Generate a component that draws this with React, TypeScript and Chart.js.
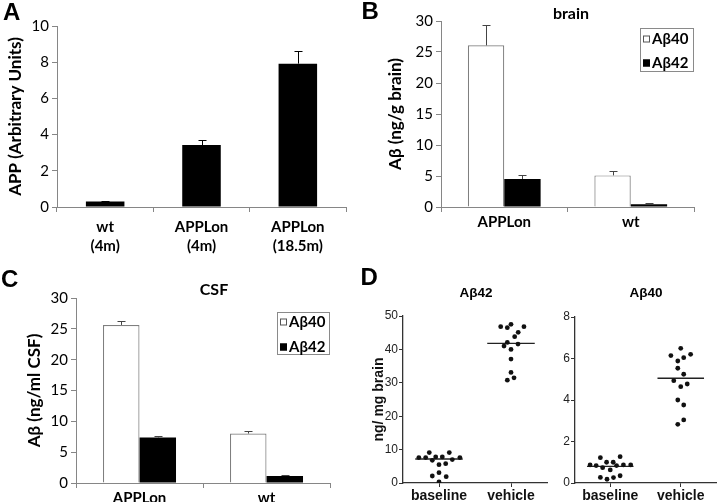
import React, { useEffect, useRef } from 'react';
import { Chart, registerables } from 'chart.js';

Chart.register(...registerables);

const CAL = 'Lato, "Open Sans", sans-serif';
const ARIAL = '"Liberation Sans", Arial, sans-serif';

// ---------- Panel A ----------
const aCategories = [['wt', '(4m)'], ['APPLon', '(4m)'], ['APPLon', '(18.5m)']];
const aValues = [0.3, 3.42, 7.92];
const aErrors = [0.03, 0.26, 0.68];
const aYTitle = 'APP (Arbitrary Units)';

// ---------- Panel B (brain) ----------
const bCategories = ['APPLon', 'wt'];
const bAb40 = [26.07, 5.1];
const bAb40Err = [3.29, 0.76];
const bAb42 = [4.52, 0.43];
const bAb42Err = [0.7, 0.16];
const bTitle = 'brain';
const bYTitle = 'Aβ (ng/g brain)';

// ---------- Panel C (CSF) ----------
const cCategories = ['APPLon', 'wt'];
const cAb40 = [25.63, 8.02];
const cAb40Err = [0.7, 0.43];
const cAb42 = [7.38, 1.13];
const cAb42Err = [0.32, 0.11];
const cTitle = 'CSF';
const cYTitle = 'Aβ (ng/ml CSF)';

const seriesNames = ['Aβ40', 'Aβ42'];

// ---------- Panel D ----------
const dCategories = ['baseline', 'vehicle'];
const dYTitle = 'ng/ mg brain';
const dAb42Title = 'Aβ42';
const dAb40Title = 'Aβ40';

const dAb42Baseline = [7.6, 7.6, 9.1, 6.8, 7.8, 7.8, 5.5, 5.8, 9.1, 7.0, 7.6, 3.1, 2.1, 1.9, 0.3];
const dAb42BaselineJitter = [-0.28, -0.185, -0.135, -0.093, -0.046, 0.046, 0, 0.093, 0.143, 0.185, 0.29, 0, -0.093, 0.1, 0];
const dAb42Vehicle = [46.8, 46.5, 47.5, 46.8, 45.1, 43.8, 42.1, 41.0, 41.6, 40.0, 37.1, 33.1, 31.5, 30.8];
const dAb42VehicleJitter = [-0.143, -0.051, 0, 0.18, 0.1, 0.051, -0.051, -0.097, 0.097, 0, 0, 0, 0.042, -0.051];
const dAb42Medians = [7.2, 41.8];

const dAb40Baseline = [0.87, 0.84, 1.22, 0.74, 1.0, 0.63, 1.0, 0.84, 1.27, 0.87, 0.87, 0.27, 0.18, 0.26, 0.35];
const dAb40BaselineJitter = [-0.286, -0.2, -0.14, -0.108, -0.052, 0, 0.042, 0.089, 0.14, 0.187, 0.29, -0.14, -0.046, 0.046, 0.14];
const dAb40Vehicle = [6.49, 6.14, 5.88, 6.04, 6.2, 5.53, 5.24, 4.93, 4.64, 4.77, 4.0, 3.76, 2.83, 3.04];
const dAb40VehicleJitter = [0, -0.14, -0.042, 0.042, 0.14, -0.042, 0.042, -0.099, 0, 0.092, -0.042, 0.042, -0.042, 0.042];
const dAb40Medians = [0.8, 5.05];

// ---------- plugins ----------
const errorBarsPlugin = {
  id: 'errorBars',
  afterDatasetsDraw(chart: any) {
    const ctx = chart.ctx;
    const yScale = chart.scales.y;
    chart.data.datasets.forEach((ds: any, di: number) => {
      if (!ds.errors) return;
      const meta = chart.getDatasetMeta(di);
      meta.data.forEach((bar: any, i: number) => {
        const v = ds.data[i];
        const e = ds.errors[i];
        const yTop = Math.round(yScale.getPixelForValue(v + e)) + 0.5;
        const x = Math.round(bar.x) + 0.5;
        ctx.save();
        ctx.strokeStyle = ds.errorColor || '#000';
        ctx.lineWidth = 1;
        ctx.beginPath();
        ctx.moveTo(x, bar.y);
        ctx.lineTo(x, yTop);
        ctx.moveTo(x - 4, yTop);
        ctx.lineTo(x + 4, yTop);
        ctx.stroke();
        ctx.restore();
      });
    });
  },
};

const boxLegendPlugin = {
  id: 'boxLegend',
  afterDraw(chart: any, _args: any, opts: any) {
    if (!opts || !opts.show) return;
    const ctx = chart.ctx;
    ctx.save();
    ctx.strokeStyle = '#8a8a8a';
    ctx.lineWidth = 1;
    ctx.strokeRect(opts.x + 0.5, opts.y + 0.5, opts.w, opts.h);
    chart.data.datasets.forEach((ds: any, i: number) => {
      const cy = opts.y + opts.firstRow + i * opts.rowGap;
      const sx = opts.x + opts.boxInset;
      ctx.fillStyle = ds.backgroundColor;
      ctx.fillRect(sx, cy - 3.5, 7, 7);
      ctx.strokeStyle = ds.backgroundColor === '#ffffff' ? '#555' : ds.backgroundColor;
      ctx.strokeRect(sx + 0.5, cy - 3, 6, 6);
      ctx.fillStyle = '#000';
      ctx.font = `bold 15px ${CAL}`;
      ctx.textBaseline = 'middle';
      ctx.textAlign = 'left';
      ctx.fillText(ds.label, sx + 9, cy + 0.5);
    });
    ctx.restore();
  },
};

// ---------- axis helpers ----------
function calXAxis(height: number, pad: number) {
  return {
    type: 'category',
    grid: { display: true, drawOnChartArea: false, drawTicks: true, tickLength: 5, color: '#868686', offset: true },
    border: { display: true, color: '#868686', width: 1 },
    ticks: { font: { family: CAL, size: 15, weight: 'bold', lineHeight: 1.3 }, color: '#000', padding: pad, maxRotation: 0, autoSkip: false },
    afterFit: (s: any) => { s.height = height; },
  };
}

function calYAxis(max: number, step: number, title: string, width: number, titlePad: number) {
  return {
    min: 0,
    max,
    ticks: { stepSize: step, font: { family: CAL, size: 15 }, color: '#000', padding: 3 },
    grid: { display: true, drawOnChartArea: false, drawTicks: true, tickLength: 5, color: '#868686' },
    border: { display: true, color: '#868686', width: 1 },
    title: { display: true, text: title, font: { family: CAL, size: 17, weight: 'bold' }, color: '#000', padding: { top: titlePad, bottom: 0 } },
    afterFit: (s: any) => { s.width = width; },
  };
}

const commonOpts = {
  animation: false,
  responsive: false,
  maintainAspectRatio: false,
  events: [],
};

function makeA() {
  return {
    type: 'bar',
    data: {
      labels: aCategories,
      datasets: [{ data: aValues, errors: aErrors, errorColor: '#000', backgroundColor: '#000', borderWidth: 0, barPercentage: 0.4, categoryPercentage: 1 }],
    },
    options: {
      ...commonOpts,
      layout: { padding: { top: 26, right: 14, left: 0, bottom: 0 } },
      plugins: { legend: { display: false }, tooltip: { enabled: false }, boxLegend: { show: false } },
      scales: { x: calXAxis(55, 5), y: calYAxis(10, 2, aYTitle, 57, 5.8) },
    },
    plugins: [errorBarsPlugin],
  };
}

function makeGrouped(cats: string[], v40: number[], e40: number[], v42: number[], e42: number[], yTitle: string, yWidth: number, padTop: number, padRight: number, xHeight: number, titlePad: number, legend: any) {
  return {
    type: 'bar',
    data: {
      labels: cats,
      datasets: [
        { label: seriesNames[0], data: v40, errors: e40, errorColor: '#444', backgroundColor: '#ffffff', borderColor: '#7f7f7f', borderWidth: 1.2, borderSkipped: 'start', barPercentage: 1, categoryPercentage: 0.575 },
        { label: seriesNames[1], data: v42, errors: e42, errorColor: '#444', backgroundColor: '#000000', borderWidth: 0, barPercentage: 1, categoryPercentage: 0.575 },
      ],
    },
    options: {
      ...commonOpts,
      layout: { padding: { top: padTop, right: padRight, left: 0, bottom: 0 } },
      plugins: { legend: { display: false }, tooltip: { enabled: false }, boxLegend: { show: true, ...legend } },
      scales: { x: calXAxis(xHeight, 0), y: calYAxis(30, 5, yTitle, yWidth, titlePad) },
    },
    plugins: [errorBarsPlugin, boxLegendPlugin],
  };
}

function makeD(baseVals: number[], baseJit: number[], vehVals: number[], vehJit: number[], medians: number[], yMax: number, yStep: number, yWidth: number, padTop: number, padRight: number, yTitle: string | null) {
  const groups = [
    { vals: baseVals, jit: baseJit },
    { vals: vehVals, jit: vehJit },
  ];
  const pointSets = groups.map((g, gi) => ({
    type: 'scatter',
    data: g.vals.map((v, i) => ({ x: gi + 0.5 + g.jit[i], y: v })),
    pointRadius: 2.4,
    pointBackgroundColor: '#111',
    pointBorderWidth: 0,
    showLine: false,
  }));
  const medianSets = medians.map((m, gi) => ({
    type: 'line',
    data: [{ x: gi + 0.5 - 0.33, y: m }, { x: gi + 0.5 + 0.33, y: m }],
    borderColor: '#222',
    borderWidth: 1.4,
    pointRadius: 0,
    showLine: true,
    fill: false,
  }));
  return {
    type: 'scatter',
    data: { datasets: [...pointSets, ...medianSets] },
    options: {
      ...commonOpts,
      layout: { padding: { top: padTop, right: padRight, left: 0, bottom: 0 } },
      plugins: { legend: { display: false }, tooltip: { enabled: false }, boxLegend: { show: false } },
      scales: {
        x: {
          type: 'linear',
          min: 0,
          max: 2,
          afterBuildTicks: (s: any) => { s.ticks = dCategories.map((_, i) => ({ value: i + 0.5 })); },
          ticks: { callback: (v: number) => dCategories[Math.round(v - 0.5)], font: { family: ARIAL, size: 14, weight: 'bold' }, color: '#111', padding: 1, maxRotation: 0, autoSkip: false },
          grid: { display: true, drawOnChartArea: false, drawTicks: true, tickLength: 4, color: '#333' },
          border: { display: true, color: '#333', width: 1.3 },
          afterFit: (s: any) => { s.height = 19; },
        },
        y: {
          min: 0,
          max: yMax,
          ticks: { stepSize: yStep, font: { family: ARIAL, size: 12 }, color: '#222', padding: 1 },
          grid: { display: true, drawOnChartArea: false, drawTicks: true, tickLength: 4, color: '#333' },
          border: { display: true, color: '#333', width: 1.3 },
          title: yTitle ? { display: true, text: yTitle, font: { family: ARIAL, size: 14, weight: 'bold' }, color: '#111', padding: { top: 10.6, bottom: 0 } } : { display: false },
          afterFit: (s: any) => { s.width = yWidth; },
        },
      },
    },
  };
}

function ChartBox({ left, top, width, height, make }: { left: number; top: number; width: number; height: number; make: () => any }) {
  const ref = useRef<HTMLCanvasElement>(null);
  useEffect(() => {
    if (!ref.current) return;
    const chart = new Chart(ref.current, make());
    return () => chart.destroy();
  }, []);
  return <canvas ref={ref} width={width} height={height} style={{ position: 'absolute', left, top, width, height }} />;
}

function Label({ text, x, y, font, size, weight = 'bold', center = false }: { text: string; x: number; y: number; font: string; size: number; weight?: string; center?: boolean }) {
  return (
    <div
      style={{
        position: 'absolute',
        left: x,
        top: y,
        fontFamily: font,
        fontSize: size,
        fontWeight: weight as any,
        lineHeight: 1,
        whiteSpace: 'nowrap',
        color: '#000',
        transform: center ? 'translate(-50%, -50%)' : undefined,
      }}
    >
      {text}
    </div>
  );
}

export default function App() {
  return (
    <div style={{ position: 'fixed', left: 0, top: 0, width: 720, height: 502, background: '#fff', overflow: 'hidden' }}>
      <ChartBox left={0} top={0} width={360} height={262} make={makeA} />
      <ChartBox
        left={360}
        top={0}
        width={360}
        height={250}
        make={() => makeGrouped(bCategories, bAb40, bAb40Err, bAb42, bAb42Err, bYTitle, 81, 21, 26, 43, 25.8, { x: 280, y: 28, w: 53, h: 43, firstRow: 11, rowGap: 24, boxInset: 3 })}
      />
      <ChartBox
        left={0}
        top={265}
        width={360}
        height={237}
        make={() => makeGrouped(cCategories, cAb40, cAb40Err, cAb42, cAb42Err, cYTitle, 76, 33, 30, 19, 24.8, { x: 277, y: 47, w: 52, h: 42, firstRow: 10, rowGap: 25, boxInset: 3 })}
      />
      <ChartBox
        left={360}
        top={265}
        width={200}
        height={237}
        make={() => makeD(dAb42Baseline, dAb42BaselineJitter, dAb42Vehicle, dAb42VehicleJitter, dAb42Medians, 50, 10, 43, 51, 13, dYTitle)}
      />
      <ChartBox
        left={550}
        top={265}
        width={170}
        height={237}
        make={() => makeD(dAb40Baseline, dAb40BaselineJitter, dAb40Vehicle, dAb40VehicleJitter, dAb40Medians, 8, 2, 25, 52, 3, null)}
      />

      <Label text="A" x={3} y={0} font={ARIAL} size={24} />
      <Label text="B" x={361.5} y={-1} font={ARIAL} size={24} />
      <Label text="C" x={1} y={267} font={ARIAL} size={24} />
      <Label text="D" x={360.5} y={265} font={ARIAL} size={24} />

      <Label text={bTitle} x={571} y={13} font={CAL} size={16} center />
      <Label text={cTitle} x={214} y={289} font={CAL} size={16} center />
      <Label text={dAb42Title} x={476} y={293} font={ARIAL} size={13.5} center />
      <Label text={dAb40Title} x={646} y={293} font={ARIAL} size={13.5} center />
    </div>
  );
}
